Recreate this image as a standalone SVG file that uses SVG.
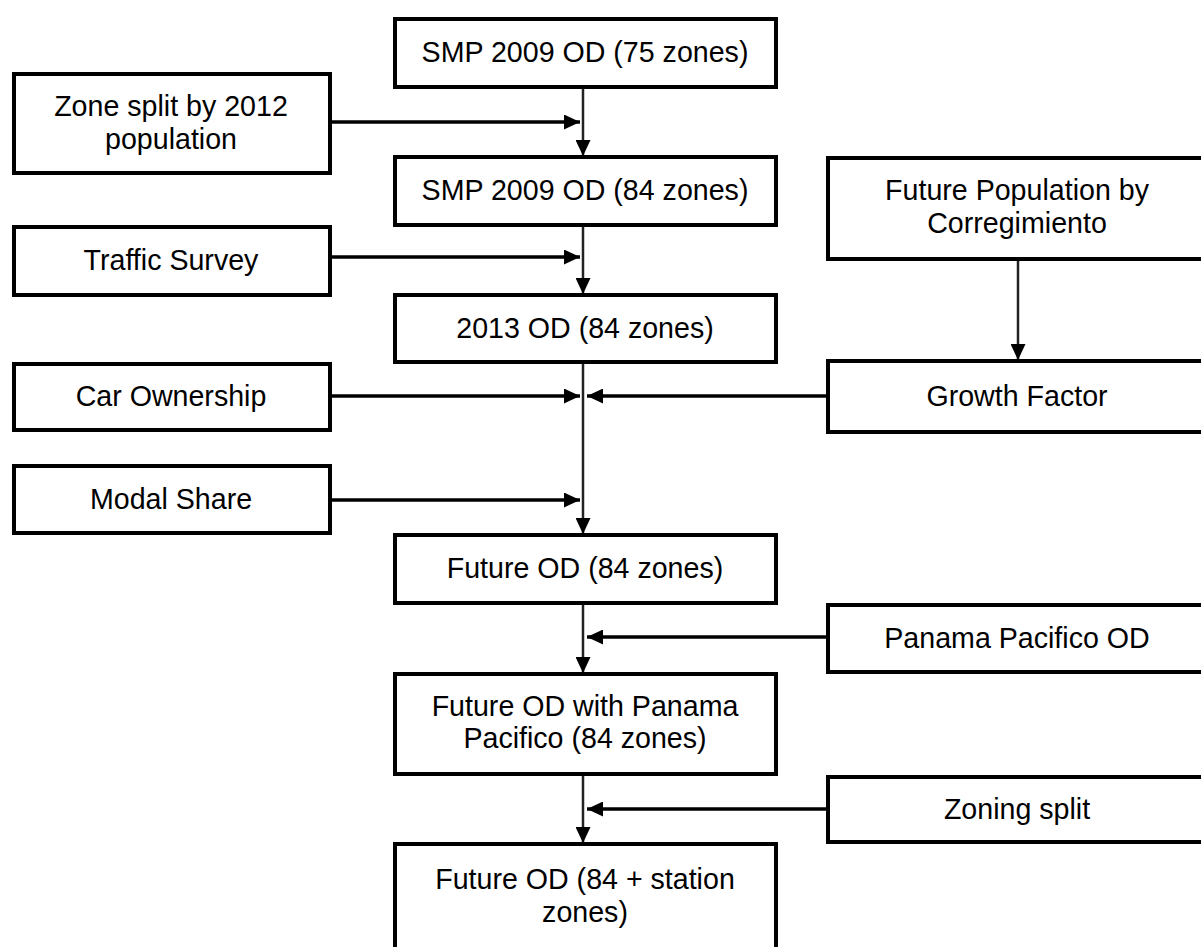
<svg xmlns="http://www.w3.org/2000/svg" width="1201" height="947" viewBox="0 0 1201 947">
<style>
.box{fill:#fff;stroke:#000;stroke-width:4}
.t{font-family:"Liberation Sans",Arial,sans-serif;font-size:28.6px;fill:#000;text-anchor:middle}
.h{stroke:#000;stroke-width:3.5;fill:none}
.v{stroke:#222;stroke-width:2.5;fill:none}
</style>
<defs>
<marker id="ah" markerUnits="userSpaceOnUse" markerWidth="17" markerHeight="15" refX="16" refY="7.5" orient="auto">
<path d="M0,0 L16,7.5 L0,15 z" fill="#000"/>
</marker>
</defs>
<rect width="1201" height="947" fill="#fff"/>
<g id="connectors">
<line class="v" x1="583" y1="87" x2="583" y2="156" marker-end="url(#ah)"/>
<line class="v" x1="583" y1="225" x2="583" y2="294" marker-end="url(#ah)"/>
<line class="v" x1="583" y1="362" x2="583" y2="534" marker-end="url(#ah)"/>
<line class="v" x1="583" y1="603" x2="583" y2="673" marker-end="url(#ah)"/>
<line class="v" x1="583" y1="774" x2="583" y2="843" marker-end="url(#ah)"/>
<line class="v" x1="1018" y1="259" x2="1018" y2="360" marker-end="url(#ah)"/>
<line class="h" x1="330" y1="122" x2="580" y2="122" marker-end="url(#ah)"/>
<line class="h" x1="330" y1="257" x2="580" y2="257" marker-end="url(#ah)"/>
<line class="h" x1="330" y1="396" x2="580" y2="396" marker-end="url(#ah)"/>
<line class="h" x1="828" y1="396" x2="587" y2="396" marker-end="url(#ah)"/>
<line class="h" x1="330" y1="500" x2="580" y2="500" marker-end="url(#ah)"/>
<line class="h" x1="828" y1="637" x2="587" y2="637" marker-end="url(#ah)"/>
<line class="h" x1="828" y1="809" x2="587" y2="809" marker-end="url(#ah)"/>
</g>
<g id="smp75"><rect class="box" x="395" y="19" width="381" height="68"/><text class="t" x="585" y="62">SMP 2009 OD (75 zones)</text></g>
<g id="zonesplit"><rect class="box" x="14" y="74" width="316" height="99"/><text class="t" x="171" y="116">Zone split by 2012</text><text class="t" x="171" y="149">population</text></g>
<g id="smp84"><rect class="box" x="395" y="157" width="381" height="68"/><text class="t" x="585" y="200">SMP 2009 OD (84 zones)</text></g>
<g id="futurepop"><rect class="box" x="828" y="158" width="385" height="101"/><text class="t" x="1017" y="200">Future Population by</text><text class="t" x="1017" y="233">Corregimiento</text></g>
<g id="traffic"><rect class="box" x="14" y="227" width="316" height="68"/><text class="t" x="171" y="270">Traffic Survey</text></g>
<g id="od2013"><rect class="box" x="395" y="295" width="381" height="67"/><text class="t" x="585" y="338">2013 OD (84 zones)</text></g>
<g id="carown"><rect class="box" x="14" y="364" width="316" height="66"/><text class="t" x="171" y="406">Car Ownership</text></g>
<g id="growth"><rect class="box" x="828" y="361" width="385" height="71"/><text class="t" x="1017" y="406">Growth Factor</text></g>
<g id="modal"><rect class="box" x="14" y="466" width="316" height="67"/><text class="t" x="171" y="509">Modal Share</text></g>
<g id="futureod"><rect class="box" x="395" y="535" width="381" height="68"/><text class="t" x="585" y="578">Future OD (84 zones)</text></g>
<g id="ppod"><rect class="box" x="828" y="605" width="385" height="67"/><text class="t" x="1017" y="648">Panama Pacifico OD</text></g>
<g id="futureodpp"><rect class="box" x="395" y="674" width="381" height="100"/><text class="t" x="585" y="716">Future OD with Panama</text><text class="t" x="585" y="748">Pacifico (84 zones)</text></g>
<g id="zoning"><rect class="box" x="828" y="777" width="385" height="65"/><text class="t" x="1017" y="819">Zoning split</text></g>
<g id="futureodstation"><rect class="box" x="395" y="844" width="381" height="120"/><text class="t" x="585" y="889">Future OD (84 + station</text><text class="t" x="585" y="922">zones)</text></g>
</svg>
